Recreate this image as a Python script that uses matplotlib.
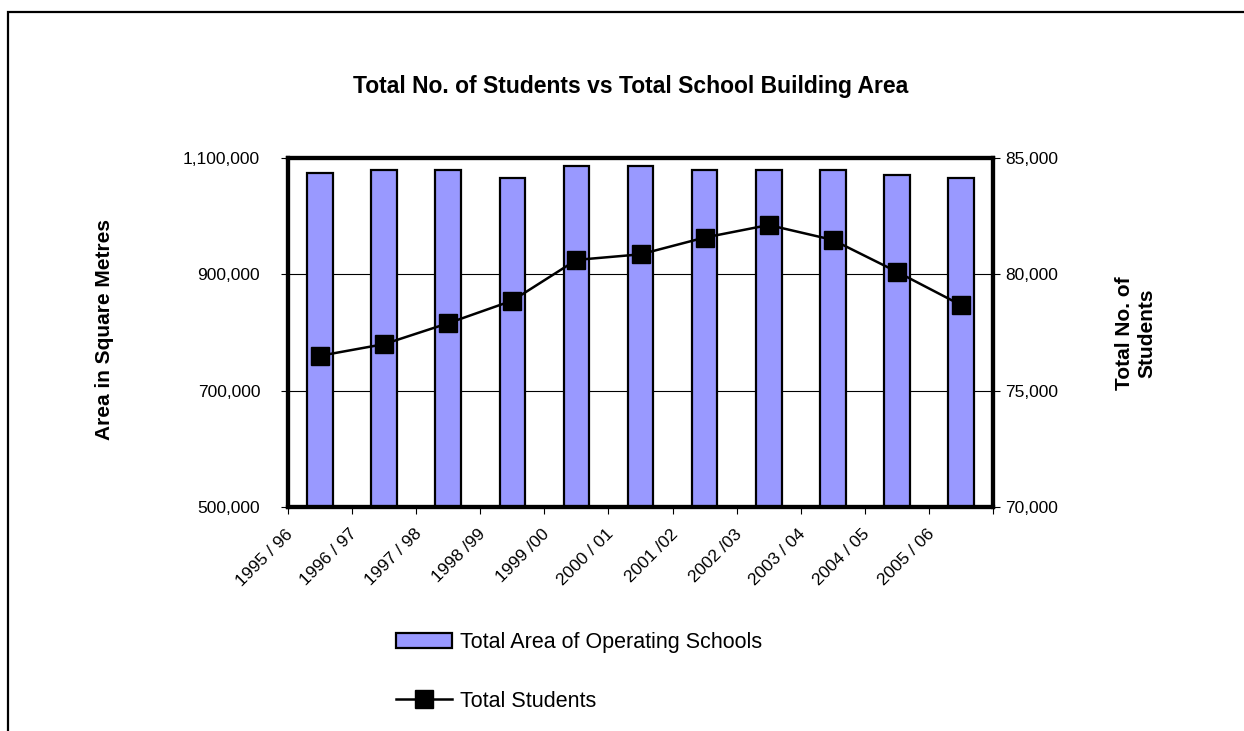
import matplotlib
matplotlib.use("Agg")
import matplotlib.pyplot as plt
import matplotlib.transforms as mtransforms
from matplotlib.patches import Rectangle
from matplotlib.ticker import FuncFormatter

plt.rcParams['font.family'] = ['Liberation Sans', 'DejaVu Sans']

years = ["1995 / 96", "1996 / 97", "1997 / 98", "1998 /99", "1999 /00", "2000 / 01",
         "2001 /02", "2002 /03", "2003 / 04", "2004 / 05", "2005 / 06"]
area = [1075000, 1080000, 1080000, 1066000, 1086000, 1086000,
        1080000, 1080000, 1080000, 1071000, 1065000]
students = [76500, 77000, 77900, 78870, 80620, 80860,
            81580, 82120, 81480, 80110, 78680]
left_ticks = [500000, 700000, 900000, 1100000]
right_ticks = [70000, 75000, 80000, 85000]

W, H = 1244, 731
fig = plt.figure(figsize=(W / 100, H / 100), dpi=100)

# outer chart frame
fig.patches.append(Rectangle((8 / W, -0.2), 1.2, 1.2 - 12 / H, transform=fig.transFigure,
                             fill=False, edgecolor='black', linewidth=1.6, zorder=0))

ax = fig.add_axes([288 / W, 1 - 507 / H, 705 / W, 349 / H])
x = list(range(len(years)))
bars = ax.bar(x, area, width=0.4, color='#9999FF', edgecolor='black', linewidth=1.6,
              zorder=2, label='Total Area of Operating Schools')
ax.set_xlim(-0.5, len(years) - 0.5)
ax.set_ylim(500000, 1100000)
ax.set_yticks(left_ticks)
ax.yaxis.set_major_formatter(FuncFormatter(lambda v, p: f"{int(v):,}"))
ax.grid(axis='y', color='black', linewidth=0.8, zorder=1)
ax.set_axisbelow(True)
for s in ax.spines.values():
    s.set_linewidth(3)

ax.set_xticks(x)
ax.set_xticklabels(years, rotation=45, ha='right', va='top', fontsize=12.5)
ax.set_xticks([i - 0.5 for i in range(len(years) + 1)], minor=True)
ax.tick_params(axis='x', which='major', length=0, pad=14)
ax.tick_params(axis='x', which='minor', direction='out', length=5, width=0.8)
offset = mtransforms.ScaledTranslation(-0.24, 0, fig.dpi_scale_trans)
for lbl in ax.get_xticklabels():
    lbl.set_transform(lbl.get_transform() + offset)

ax2 = ax.twinx()
line, = ax2.plot(x, students, color='black', linewidth=1.8, marker='s', markersize=13,
                 markerfacecolor='black', markeredgecolor='black', zorder=3,
                 label='Total Students')
ax2.set_ylim(70000, 85000)
ax2.set_yticks(right_ticks)
ax2.yaxis.set_major_formatter(FuncFormatter(lambda v, p: f"{int(v):,}"))
for s in ax2.spines.values():
    s.set_linewidth(3)

ax.tick_params(axis='y', direction='out', length=5, width=0.8, labelsize=12.5, pad=15)
ax2.tick_params(axis='y', direction='out', length=5, width=0.8, labelsize=12.5, pad=4)

fig.text(631 / W, 1 - 86 / H, "Total No. of Students vs Total School Building Area",
         ha='center', va='center', fontsize=16.5, fontweight='bold')
fig.text(105 / W, 1 - 330 / H, "Area in Square Metres", rotation=90,
         ha='center', va='center', fontsize=15, fontweight='bold')
fig.text(1136 / W, 1 - 333 / H, "Total No. of\nStudents", rotation=90,
         ha='center', va='center', multialignment='center', fontsize=15, fontweight='bold')

leg = fig.legend(handles=[bars, line], labels=['Total Area of Operating Schools', 'Total Students'],
                 loc='upper left', bbox_to_anchor=(396 / W, 1 - 632 / H), frameon=False,
                 fontsize=15.5, handlelength=2.6, handleheight=0.65, handletextpad=0.35,
                 labelspacing=1.75, borderaxespad=0, borderpad=0)

fig.savefig("out.png", dpi=100)
